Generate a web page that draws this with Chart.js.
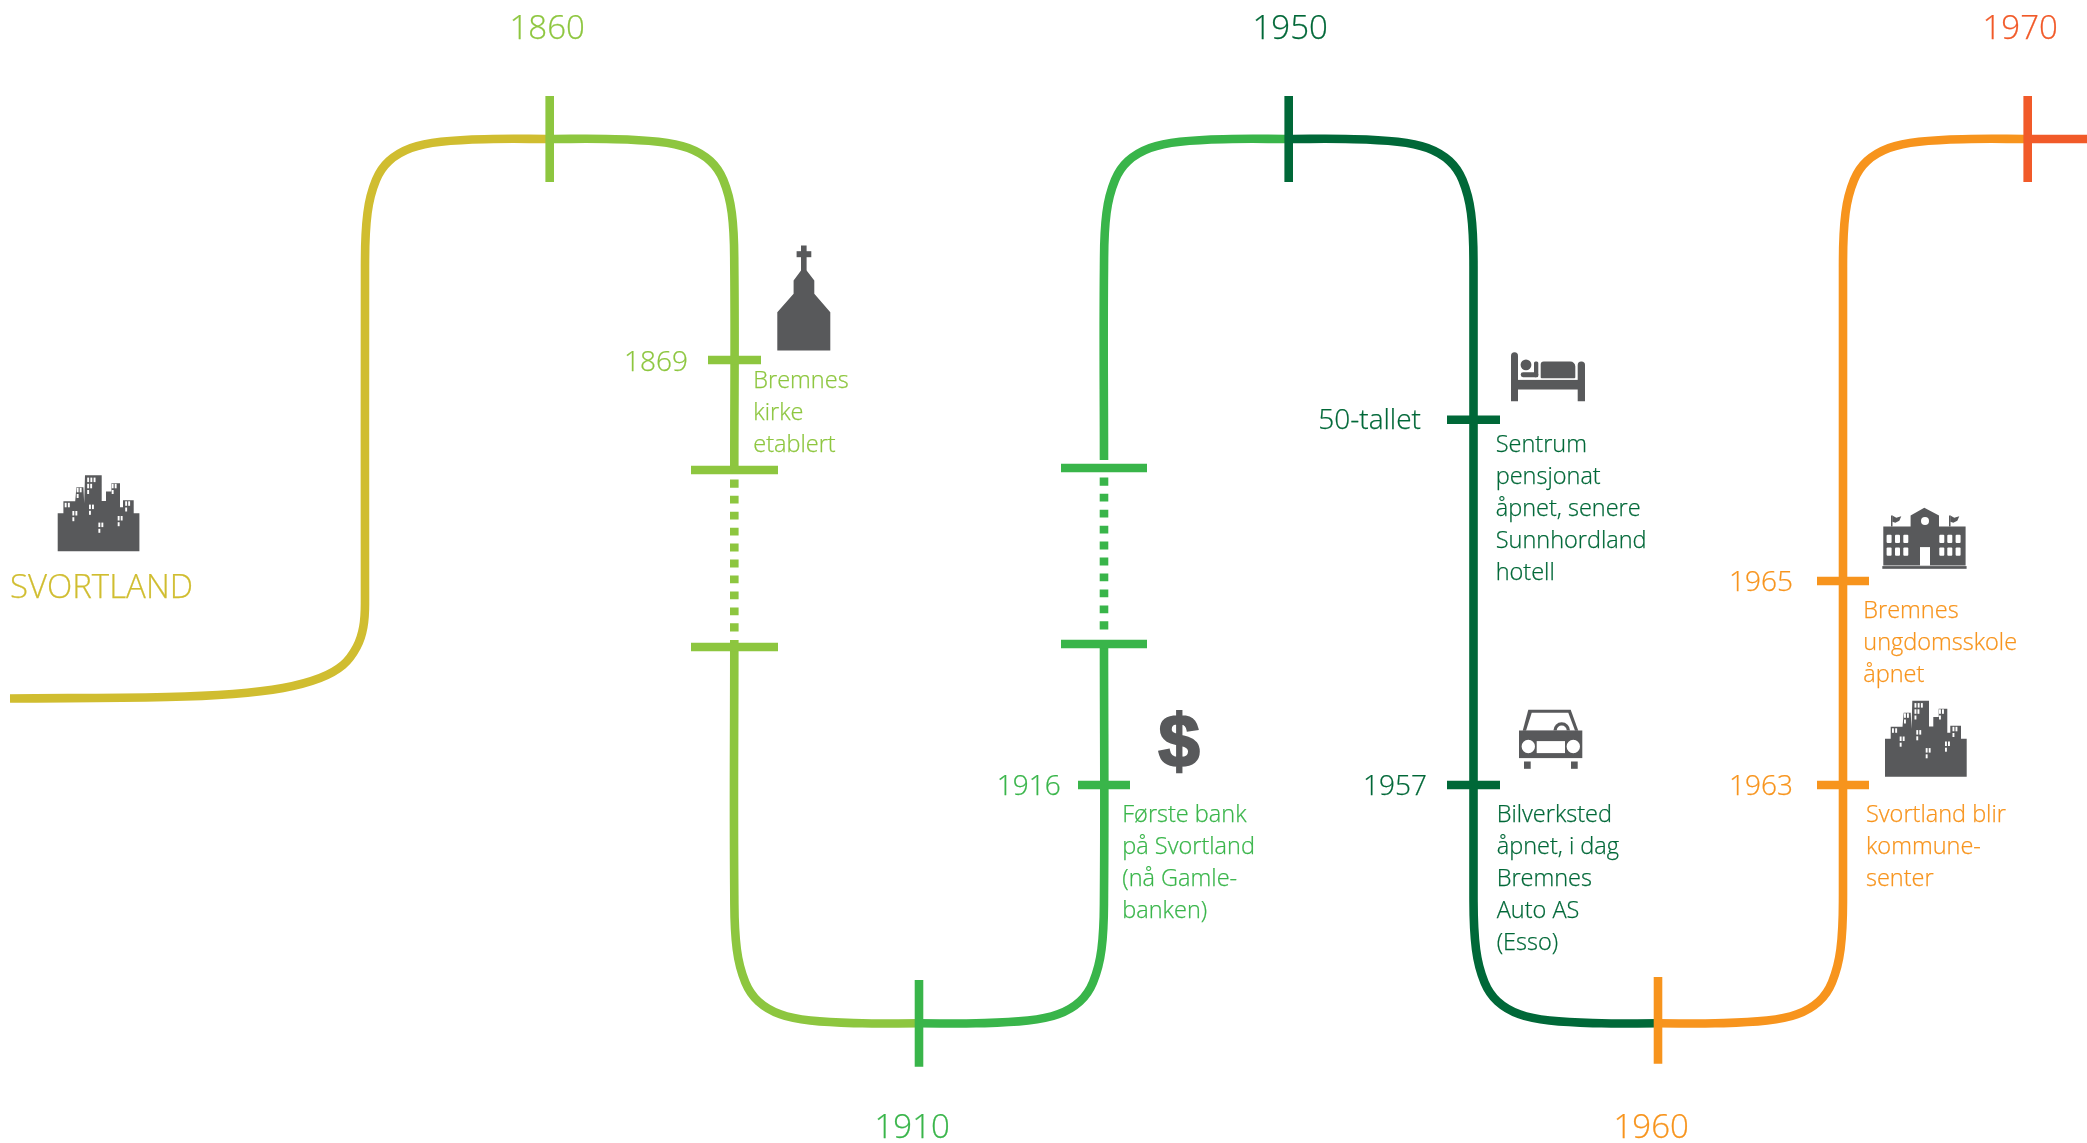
<!DOCTYPE html>
<html lang="no">
<head>
<meta charset="utf-8">
<title>Svortland tidslinje</title>
<script src="https://cdn.jsdelivr.net/npm/chart.js@4"></script>
<style>
  html, body { margin: 0; padding: 0; background: #fff; }
  canvas { display: block; }
</style>
</head>
<body>
<canvas id="timeline" width="2087" height="1143"></canvas>
<script>
/* ===== Data: road, in picture units ===== */
var roadYellowX = [10, 167, 233, 283, 320, 343, 356.7, 363.3, 365, 365, 367.5, 376, 389, 411, 441, 493, 550];
var roadYellowY = [698.5, 697, 694, 688, 678, 665, 647, 627, 600, 267, 213, 180, 161, 148, 141.7, 139, 139];

var roadLimeTopX = [550, 606.3, 658.3, 688.3, 710.3, 723.3, 731.8, 734.3, 734.3];
var roadLimeTopY = [139, 139, 141.7, 148, 161, 180, 213, 267, 466];
var roadLimeBottomX = [734.3, 734.3, 736.8, 745.3, 758.3, 780.3, 810.3, 862.3, 919];
var roadLimeBottomY = [640, 895.3, 949.3, 982.3, 1001.3, 1014.3, 1020.6, 1023.3, 1023.3];
var roadLimeDotsX = [734.3, 734.3];
var roadLimeDotsY = [479.5, 631.5];

var roadGreenBottomX = [919, 976, 1028, 1058, 1080, 1093, 1101.5, 1104, 1104];
var roadGreenBottomY = [1023.3, 1023.3, 1020.6, 1014.3, 1001.3, 982.3, 949.3, 895.3, 640];
var roadGreenTopX = [1104, 1104, 1106.5, 1115, 1128, 1150, 1180, 1232, 1288.7];
var roadGreenTopY = [460, 267, 213, 180, 161, 148, 141.7, 139, 139];
var roadGreenDotsX = [1104, 1104];
var roadGreenDotsY = [477.5, 629.5];

var roadDarkX = [1288.7, 1345.5, 1397.5, 1427.5, 1449.5, 1462.5, 1471, 1473.5, 1473.5, 1476, 1484.5, 1497.5, 1519.5, 1549.5, 1601.5, 1658];
var roadDarkY = [139, 139, 141.7, 148, 161, 180, 213, 267, 895.3, 949.3, 982.3, 1001.3, 1014.3, 1020.6, 1023.3, 1023.3];

var roadOrangeX = [1658, 1715, 1767, 1797, 1819, 1832, 1840.5, 1843, 1843, 1845.5, 1854, 1867, 1889, 1919, 1971, 2027.7];
var roadOrangeY = [1023.3, 1023.3, 1020.6, 1014.3, 1001.3, 982.3, 949.3, 895.3, 267, 213, 180, 161, 148, 141.7, 139, 139];

var roadRedX = [2027.7, 2087];
var roadRedY = [139, 139];

/* decade marks crossing the road */
var decadeX = [549.7, 919, 1288.7, 1658, 2027.7];
var decadeTop = [96, 980, 96, 977, 96];
var decadeBottom = [182, 1066.7, 182, 1063.7, 182];
var decadeLabels = ['1860', '1910', '1950', '1960', '1970'];
var decadeLabelX = [509.5, 874.5, 1252.5, 1613.5, 1982.5];
var decadeLabelY = [39.3, 1137.7, 39.3, 1137.7, 39.3];

/* event marks along the road */
var eventY = [360, 470, 647, 468, 644, 785, 419.7, 785, 581, 785];
var eventLeft = [708, 691, 691, 1061, 1061, 1078, 1447, 1447, 1817, 1817];
var eventRight = [761, 778, 778, 1147, 1147, 1130, 1500, 1500, 1869, 1869];

var eventLabels = ['1869', '1916', '50-tallet', '1957', '1965', '1963'];
var eventLabelX = [624, 996.7, 1318.3, 1363, 1729, 1729];
var eventLabelY = [371.2, 794.7, 429, 794.7, 590.7, 794.7];

var noteKirke = ['Bremnes', 'kirke', 'etablert'];
var noteBank = ['Første bank', 'på Svortland', '(nå Gamle-', 'banken)'];
var noteHotell = ['Sentrum', 'pensjonat', 'åpnet, senere', 'Sunnhordland', 'hotell'];
var noteBil = ['Bilverksted', 'åpnet, i dag', 'Bremnes', 'Auto AS', '(Esso)'];
var noteSkole = ['Bremnes', 'ungdomsskole', 'åpnet'];
var noteSenter = ['Svortland blir', 'kommune-', 'senter'];

var placeName = 'SVORTLAND';

/* ===== Design tokens ===== */
var COLORS = {
    yellow: '#D0BD30',
    lime:   '#8DC63F',
    green:  '#39B54A',
    dark:   '#006838',
    orange: '#F7941D',
    red:    '#F15A29',
    icon:   '#58595B'
};
var FONT = "'Open Sans', sans-serif";
var ROAD_WIDTH = 8.6;

function zip(xs, ys) {
    return xs.map(function (x, i) { return { x: x, y: ys[i] }; });
}

function roadDataset(xs, ys, color, dash) {
    return {
        data: zip(xs, ys),
        borderColor: color,
        borderWidth: ROAD_WIDTH,
        borderDash: dash || [],
        tension: 0.4,
        fill: false,
        pointRadius: 0,
        borderCapStyle: 'butt',
        borderJoinStyle: 'round',
        order: 2
    };
}

function markDataset(xs, ys, color) {
    return {
        data: zip(xs, ys),
        borderColor: color,
        borderWidth: ROAD_WIDTH,
        fill: false,
        pointRadius: 0,
        borderCapStyle: 'butt',
        order: 1
    };
}

var datasets = [
    roadDataset(roadYellowX, roadYellowY, COLORS.yellow),
    roadDataset(roadLimeTopX, roadLimeTopY, COLORS.lime),
    roadDataset(roadLimeBottomX, roadLimeBottomY, COLORS.lime),
    roadDataset(roadLimeDotsX, roadLimeDotsY, COLORS.lime, [8, 8]),
    roadDataset(roadGreenBottomX, roadGreenBottomY, COLORS.green),
    roadDataset(roadGreenTopX, roadGreenTopY, COLORS.green),
    roadDataset(roadGreenDotsX, roadGreenDotsY, COLORS.green, [8, 8]),
    roadDataset(roadDarkX, roadDarkY, COLORS.dark),
    roadDataset(roadOrangeX, roadOrangeY, COLORS.orange),
    roadDataset(roadRedX, roadRedY, COLORS.red)
];

var decadeColors = [COLORS.lime, COLORS.green, COLORS.dark, COLORS.orange, COLORS.red];
decadeX.forEach(function (x, i) {
    datasets.push(markDataset([x, x], [decadeTop[i], decadeBottom[i]], decadeColors[i]));
});

var eventColors = [COLORS.lime, COLORS.lime, COLORS.lime, COLORS.green, COLORS.green, COLORS.green,
                   COLORS.dark, COLORS.dark, COLORS.orange, COLORS.orange];
eventY.forEach(function (y, i) {
    datasets.push(markDataset([eventLeft[i], eventRight[i]], [y, y], eventColors[i]));
});

/* ===== Icons, drawn at a local origin ===== */
function poly(ctx, pts) {
    ctx.beginPath();
    pts.forEach(function (p, i) {
        if (i === 0) ctx.moveTo(p[0], p[1]); else ctx.lineTo(p[0], p[1]);
    });
    ctx.closePath();
    ctx.fill();
}

function cityIcon(ctx) {
    ctx.fillStyle = COLORS.icon;
    poly(ctx, [[0, 76], [0, 38], [5.7, 38], [5.7, 26], [17.5, 26], [18.7, 12], [25.7, 12], [26.5, 28], [27.3, 0], [44, 0],
               [44, 25.7], [48.3, 25.7], [48.3, 16.3], [53.7, 16.3], [53.7, 8], [62.3, 8], [62.3, 32], [65.3, 32],
               [65.3, 25], [76, 25], [76, 38], [81.7, 38], [81.7, 76]]);
    ctx.fillStyle = '#fff';
    [[14.7, 35.7], [31.3, 29.3], [40.7, 47.3], [60, 40.7], [19, 12.5], [29.5, 8.5], [54, 8.5], [67.5, 26]].forEach(function (w) {
        ctx.fillRect(w[0], w[1], 1.9, 4.5);
        ctx.fillRect(w[0] + 3, w[1], 1.9, 4.5);
        ctx.fillRect(w[0], w[1] + 6.2, 1.9, 4);
    });
    [[29.5, 2.3], [32.7, 2.3], [35.9, 2.3], [7, 27.5], [10.2, 27.5]].forEach(function (w) {
        ctx.fillRect(w[0], w[1], 1.9, 4.5);
    });
}

function churchIcon(ctx) {
    ctx.fillStyle = COLORS.icon;
    ctx.fillRect(23.7, 0, 5.6, 26);
    ctx.fillRect(19.3, 5.7, 14.7, 6);
    poly(ctx, [[23.7, 25], [29.3, 25], [37, 35], [37, 48.3], [53, 66.7], [53, 105], [0, 105], [0, 66.7], [16.3, 48.3], [16.3, 35]]);
}

function roundBar(ctx, x, y, w, h, r) {
    ctx.beginPath();
    ctx.roundRect(x, y, w, h, r);
    ctx.fill();
}

function bedIcon(ctx) {
    ctx.fillStyle = COLORS.icon;
    roundBar(ctx, 0, 0, 7, 49, [3.5, 3.5, 0, 0]);
    roundBar(ctx, 66.7, 9.3, 7.3, 39.7, [3.5, 3.5, 0, 0]);
    ctx.fillRect(0, 27.7, 74, 9.6);
    roundBar(ctx, 29.7, 9.3, 34.6, 16.7, [3, 5, 1, 1]);
    ctx.beginPath();
    ctx.arc(15, 12.7, 5.4, 0, Math.PI * 2);
    ctx.fill();
    roundBar(ctx, 9.7, 20, 17.6, 5, 2.4);
    roundBar(ctx, 23, 9.3, 4.3, 15.7, 1.5);
}

function carIcon(ctx) {
    ctx.fillStyle = COLORS.icon;
    poly(ctx, [[9.3, 0], [51.7, 0], [59.3, 21], [3.7, 21]]);
    ctx.fillStyle = '#fff';
    poly(ctx, [[12.7, 3], [49.3, 3], [56, 21], [7, 21]]);
    ctx.fillStyle = COLORS.icon;
    ctx.beginPath();
    ctx.arc(42.7, 20.7, 8.3, Math.PI, 0);
    ctx.fill();
    ctx.fillStyle = '#fff';
    ctx.beginPath();
    ctx.arc(42.7, 20.7, 5, Math.PI, 0);
    ctx.fill();
    ctx.fillStyle = COLORS.icon;
    ctx.fillRect(0, 20.7, 63.3, 27.6);
    ctx.fillRect(5, 51.7, 6.7, 7.3);
    ctx.fillRect(52, 51.7, 6.7, 7.3);
    ctx.fillStyle = '#fff';
    ctx.beginPath();
    ctx.arc(9.3, 36.7, 6.7, 0, Math.PI * 2);
    ctx.arc(54.3, 36.7, 6.7, 0, Math.PI * 2);
    ctx.fill();
    ctx.fillRect(17.7, 31.3, 28.3, 12);
}

function schoolIcon(ctx) {
    ctx.fillStyle = COLORS.icon;
    poly(ctx, [[0, 18.7], [27.3, 18.7], [27.3, 7.7], [41, 0], [55.7, 7.7], [55.7, 18.7], [82.3, 18.7], [82.3, 57.7], [0, 57.7]]);
    ctx.fillRect(-1, 58.3, 84.3, 2.7);
    ctx.fillRect(7.7, 7.7, 1.5, 11);
    ctx.fillRect(65.7, 7.7, 1.5, 11);
    poly(ctx, [[9, 7.7], [13, 10], [18, 8.5], [16, 13], [12, 15], [9, 14]]);
    poly(ctx, [[67, 7.7], [71, 10], [76, 8.5], [74, 13], [70, 15], [67, 14]]);
    ctx.fillStyle = '#fff';
    [3.3, 11.7, 20, 56, 64, 72.3].forEach(function (x) {
        roundBar(ctx, x, 27, 5, 8.3, 1);
        roundBar(ctx, x, 39.7, 5, 8.3, 1);
    });
    ctx.fillRect(36.7, 39.3, 10, 18.4);
    ctx.beginPath();
    ctx.arc(41.7, 13.3, 4, 0, Math.PI * 2);
    ctx.fill();
}

function dollarIcon(ctx) {
    ctx.fillStyle = COLORS.icon;
    ctx.strokeStyle = COLORS.icon;
    ctx.lineWidth = 2.4;
    ctx.font = "bold 74px 'Liberation Sans', sans-serif";
    ctx.textAlign = 'left';
    ctx.textBaseline = 'alphabetic';
    ctx.fillText('$', 0.5, 55);
    ctx.strokeText('$', 0.5, 55);
}

var iconList = [
    { draw: cityIcon,   x: 57.7,   y: 475.3 },
    { draw: churchIcon, x: 777.3,  y: 245.5 },
    { draw: dollarIcon, x: 1158,   y: 710.7 },
    { draw: bedIcon,    x: 1511,   y: 352.2 },
    { draw: carIcon,    x: 1519,   y: 709.8 },
    { draw: schoolIcon, x: 1883.3, y: 507.8 },
    { draw: cityIcon,   x: 1885,   y: 700.8 }
];

/* ===== Texts and icons on top of the chart ===== */
var notes = [
    { lines: noteKirke,  x: 753.3,  y: 388.3, color: COLORS.lime },
    { lines: noteBank,   x: 1122.3, y: 821.7, color: COLORS.green },
    { lines: noteHotell, x: 1495.7, y: 451.7, color: COLORS.dark },
    { lines: noteBil,    x: 1496.7, y: 821.7, color: COLORS.dark },
    { lines: noteSkole,  x: 1863.3, y: 618.3, color: COLORS.orange },
    { lines: noteSenter, x: 1866,   y: 822,   color: COLORS.orange }
];
var eventLabelColors = [COLORS.lime, COLORS.green, COLORS.dark, COLORS.dark, COLORS.orange, COLORS.orange];

var annotationPlugin = {
    id: 'annotations',
    afterDatasetsDraw: function (chart) {
        var ctx = chart.ctx;
        var sx = chart.scales.x;
        var sy = chart.scales.y;

        function put(text, x, y, color) {
            ctx.fillStyle = color;
            ctx.strokeStyle = color;
            ctx.fillText(text, sx.getPixelForValue(x), sy.getPixelForValue(y));
            ctx.strokeText(text, sx.getPixelForValue(x), sy.getPixelForValue(y));
        }

        iconList.forEach(function (ic) {
            ctx.save();
            ctx.translate(sx.getPixelForValue(ic.x), sy.getPixelForValue(ic.y));
            ic.draw(ctx);
            ctx.restore();
        });

        ctx.save();
        ctx.textAlign = 'left';
        ctx.textBaseline = 'alphabetic';
        ctx.lineWidth = 0.25;

        ctx.font = '300 33px ' + FONT;
        decadeLabels.forEach(function (t, i) {
            put(t, decadeLabelX[i], decadeLabelY[i], decadeColors[i]);
        });

        put(placeName, 10, 597.7, COLORS.yellow);

        ctx.font = '300 28px ' + FONT;
        eventLabels.forEach(function (t, i) {
            put(t, eventLabelX[i], eventLabelY[i], eventLabelColors[i]);
        });

        ctx.font = '300 23.5px ' + FONT;
        notes.forEach(function (n) {
            n.lines.forEach(function (line, i) {
                put(line, n.x, n.y + i * 32, n.color);
            });
        });
        ctx.restore();
    }
};

new Chart(document.getElementById('timeline'), {
    type: 'line',
    data: { datasets: datasets },
    options: {
        responsive: false,
        animation: false,
        events: [],
        layout: { padding: 0 },
        plugins: { legend: { display: false }, tooltip: { enabled: false } },
        scales: {
            x: { type: 'linear', min: 0, max: 2087, display: false },
            y: { type: 'linear', min: 0, max: 1143, reverse: true, display: false }
        }
    },
    plugins: [annotationPlugin]
});
</script>
</body>
</html>
